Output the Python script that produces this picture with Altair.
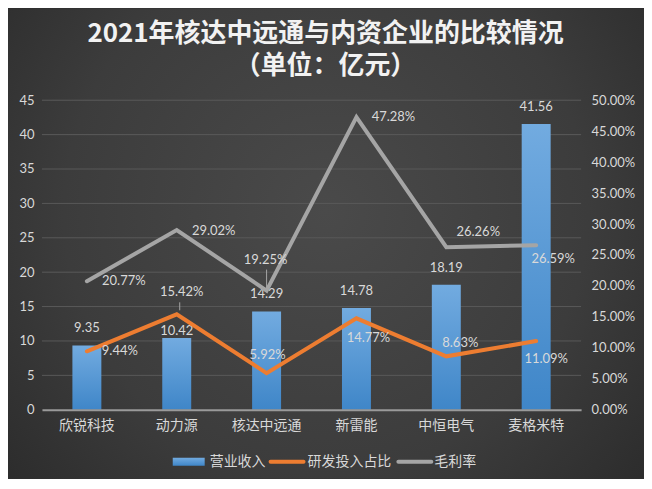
import altair as alt
import pandas as pd

# ---------------- data ----------------
categories = ["欣锐科技", "动力源", "核达中远通", "新雷能", "中恒电气", "麦格米特"]
revenue = [9.35, 10.42, 14.29, 14.78, 18.19, 41.56]          # 营业收入 (亿元)
rd_ratio_pct = [9.44, 15.42, 5.92, 14.77, 8.63, 11.09]       # 研发投入占比 (%)
gross_margin_pct = [20.77, 29.02, 19.25, 47.28, 26.26, 26.59]  # 毛利率 (%)
series_names = ["营业收入", "研发投入占比", "毛利率"]
title_lines = ["2021年核达中远通与内资企业的比较情况", "（单位：亿元）"]
left_ticks = [0, 5, 10, 15, 20, 25, 30, 35, 40, 45]
right_ticks = [0.0, 0.05, 0.10, 0.15, 0.20, 0.25, 0.30, 0.35, 0.40, 0.45, 0.50]

# ---------------- style ----------------
W, H = 540, 310
PAD = {"left": 34, "top": 92, "right": 63, "bottom": 69}
BLUE_TOP, BLUE_BOTTOM = "#72abe0", "#3f86c8"
ORANGE, GRAY, TEXT = "#ed7d31", "#a5a5a5", "#d9d9d9"
NUM_FONT, CJK_FONT = "Lato", "Noto Sans CJK SC"

bars_df = pd.DataFrame({"cat": categories, "rev": revenue})
lines_df = pd.DataFrame({
    "cat": categories * 2,
    "series": [series_names[1]] * len(categories) + [series_names[2]] * len(categories),
    "value": [v / 100 for v in rd_ratio_pct] + [v / 100 for v in gross_margin_pct],
})
grid_df = pd.DataFrame({"tick": left_ticks[1:]})
one = pd.DataFrame({"a": [0]})

x_enc = alt.X(
    "cat:N", sort=categories,
    scale=alt.Scale(domain=categories, paddingInner=0, paddingOuter=0),
    axis=alt.Axis(title=None, labelAngle=0, labelFont=CJK_FONT, labelFontSize=14,
                  labelColor=TEXT, labelPadding=9, ticks=False, grid=False,
                  domainColor="#9a9a9a", domainWidth=2, zindex=1),
)
left_axis = alt.Axis(title=None, values=left_ticks, grid=False, domain=False, ticks=False,
                     labelColor=TEXT, labelFont=NUM_FONT, labelFontSize=13,
                     labelPadding=8, zindex=1)
left_scale = alt.Scale(domain=[0, 45], nice=False)
right_enc = alt.Y(
    "value:Q", scale=alt.Scale(domain=[0, 0.5], nice=False),
    axis=alt.Axis(orient="right", title=None, values=right_ticks, format=".2%", grid=False,
                  domain=False, ticks=False, labelColor=TEXT, labelFont=NUM_FONT,
                  labelFontSize=13, labelPadding=10, zindex=1),
)

blue_grad = alt.LinearGradient(
    gradient="linear",
    stops=[alt.GradientStop(color=BLUE_TOP, offset=0), alt.GradientStop(color=BLUE_BOTTOM, offset=1)],
    x1=0, x2=0, y1=0, y2=1,
)

# background vignette
bg = alt.Chart(one).mark_rect(
    fill=alt.RadialGradient(
        gradient="radial",
        stops=[alt.GradientStop(color="#4a4a4a", offset=0),
               alt.GradientStop(color="#3c3c3c", offset=0.55),
               alt.GradientStop(color="#262626", offset=1)],
        x1=0.5, y1=0.45, r1=0, x2=0.5, y2=0.45, r2=0.75,
    )
).encode(x=alt.value(-PAD["left"]), x2=alt.value(W + PAD["right"]),
         y=alt.value(-PAD["top"]), y2=alt.value(H + PAD["bottom"]))

# ---------------- left (revenue) group ----------------
grid = alt.Chart(grid_df).mark_rule(color="#595959", strokeWidth=1).encode(
    y=alt.Y("tick:Q", scale=left_scale, axis=left_axis)
)
bars = alt.Chart(bars_df).mark_bar(size=29, fill=blue_grad).encode(
    x=x_enc, y=alt.Y("rev:Q", scale=left_scale, axis=left_axis)
)

def bar_label(cats, dy):
    return alt.Chart(bars_df).transform_filter(
        alt.FieldOneOfPredicate(field="cat", oneOf=cats)
    ).mark_text(dy=dy, font=NUM_FONT, fontSize=13, color=TEXT, baseline="middle").encode(
        x=x_enc, y=alt.Y("rev:Q", scale=left_scale, axis=left_axis),
        text=alt.Text("rev:Q", format=".2f"),
    )

left_group = alt.layer(
    grid, bars,
    bar_label([c for c in categories if c != "动力源"], -17),
    bar_label(["动力源"], -7),
)

# ---------------- right (percent) group ----------------
lines = alt.Chart(lines_df).mark_line(strokeWidth=4, strokeCap="round").encode(
    x=x_enc, y=right_enc,
    color=alt.Color("series:N", scale=alt.Scale(domain=series_names[1:], range=[ORANGE, GRAY]),
                    legend=None),
)

placements = [
    (series_names[2], "欣锐科技", 37, 0),
    (series_names[2], "动力源", 37, 1),
    (series_names[2], "核达中远通", -1, -31),
    (series_names[2], "新雷能", 37, 0),
    (series_names[2], "中恒电气", 32, -15),
    (series_names[2], "麦格米特", 17, 14),
    (series_names[1], "欣锐科技", 33, 0),
    (series_names[1], "动力源", 5, -22),
    (series_names[1], "核达中远通", 1, -18),
    (series_names[1], "新雷能", 12, 20),
    (series_names[1], "中恒电气", 14, -13),
    (series_names[1], "麦格米特", 10, 18),
]

def line_label(series, cat, dx, dy):
    return alt.Chart(lines_df).transform_filter(
        (alt.datum.series == series) & (alt.datum.cat == cat)
    ).mark_text(dx=dx, dy=dy, font=NUM_FONT, fontSize=13, color=TEXT, baseline="middle").encode(
        x=x_enc, y=right_enc, text=alt.Text("value:Q", format=".2%")
    )

def leader(series, cat, off1, off2, xoff):
    return alt.Chart(lines_df).transform_filter(
        (alt.datum.series == series) & (alt.datum.cat == cat)
    ).mark_rule(color=GRAY, strokeWidth=1, yOffset=off1, y2Offset=off2, xOffset=xoff).encode(
        x=x_enc, y=right_enc, y2="value:Q"
    )

right_group = alt.layer(
    lines,
    leader(series_names[2], "核达中远通", -3, -21, 0),
    leader(series_names[1], "动力源", -4, -12, 3),
    *[line_label(*p) for p in placements],
)

# ---------------- legend (manual) ----------------
def legend_text(txt, x):
    return alt.Chart(pd.DataFrame({"t": [txt]})).mark_text(
        align="left", baseline="middle", font=CJK_FONT, fontSize=14, color=TEXT
    ).encode(x=alt.value(x), y=alt.value(362), text="t:N")

leg_rect = alt.Chart(one).mark_rect(fill=blue_grad).encode(
    x=alt.value(131), x2=alt.value(163), y=alt.value(358), y2=alt.value(366)
)
leg_orange = alt.Chart(one).mark_rule(color=ORANGE, strokeWidth=4, strokeCap="round").encode(
    x=alt.value(229), x2=alt.value(262), y=alt.value(362)
)
leg_gray = alt.Chart(one).mark_rule(color=GRAY, strokeWidth=4, strokeCap="round").encode(
    x=alt.value(357), x2=alt.value(390), y=alt.value(362)
)

# ---------------- title (one two-line text) ----------------
title_mark = alt.Chart(pd.DataFrame({"t": ["\n".join(title_lines)]})).mark_text(
    align="center", baseline="middle", font=CJK_FONT, fontSize=26, fontWeight="bold",
    color="#f2f2f2", lineBreak="\n", lineHeight=32,
).encode(x=alt.value(284), y=alt.value(-66), text="t:N")

chart = alt.layer(
    bg, left_group, right_group,
    leg_rect, legend_text(series_names[0], 168),
    leg_orange, legend_text(series_names[1], 266),
    leg_gray, legend_text(series_names[2], 393),
    title_mark,
).resolve_scale(y="independent").properties(
    width=W, height=H, padding=PAD,
    autosize=alt.AutoSizeParams(type="none"),
    background="#2b2b2b",
).configure_view(stroke=None)

chart.save("out.html", embed_options={"renderer": "svg", "actions": False})
